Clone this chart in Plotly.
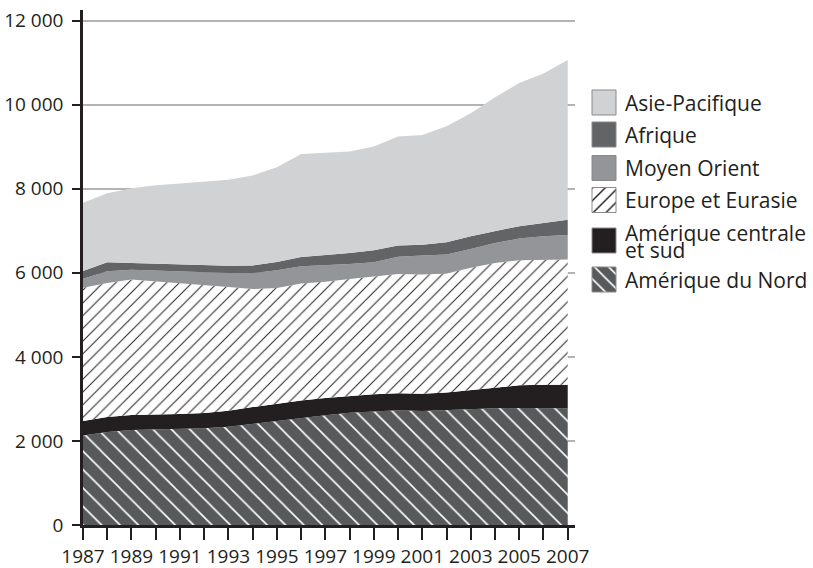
import plotly.graph_objects as go

# ---------------- data ----------------
years = list(range(1987, 2008))

amerique_nord = [2130, 2210, 2260, 2275, 2280, 2300, 2340, 2410, 2475, 2555, 2610,
                 2670, 2705, 2730, 2715, 2735, 2770, 2775, 2785, 2790, 2780]
amerique_centrale_sud = [345, 360, 355, 350, 360, 365, 380, 395, 410, 410, 410,
                         400, 405, 405, 410, 415, 435, 490, 540, 550, 560]
europe_eurasie = [3170, 3190, 3225, 3175, 3120, 3055, 2945, 2810, 2755, 2780, 2770,
                  2785, 2810, 2840, 2835, 2835, 2915, 2970, 2975, 2975, 2975]
moyen_orient = [215, 275, 235, 255, 270, 295, 330, 380, 420, 410, 390,
                355, 330, 405, 450, 450, 450, 475, 515, 555, 585]
afrique = [185, 215, 160, 160, 165, 165, 175, 180, 200, 220, 240,
           260, 285, 270, 260, 295, 300, 280, 295, 315, 365]
asie_pacifique = [1625, 1645, 1780, 1870, 1930, 1985, 2045, 2140, 2255, 2455, 2435,
                  2415, 2470, 2595, 2610, 2755, 2930, 3190, 3405, 3560, 3800]

names = ["Amérique du Nord", "Amérique centrale et sud", "Europe et Eurasie",
         "Moyen Orient", "Afrique", "Asie-Pacifique"]
values = [amerique_nord, amerique_centrale_sud, europe_eurasie,
          moyen_orient, afrique, asie_pacifique]
# legend (top to bottom)
legend_names = ["Asie-Pacifique", "Afrique", "Moyen Orient", "Europe et Eurasie",
                "Amérique centrale et sud", "Amérique du Nord"]
legend_lines = {"Amérique centrale et sud": ["Amérique centrale", "et sud"]}

y_tick_vals = [0, 2000, 4000, 6000, 8000, 10000, 12000]
y_tick_text = ["0", "2 000", "4 000", "6 000", "8 000", "10 000", "12 000"]
x_tick_text = [str(y) if (y - 1987) % 2 == 0 else "" for y in years]

# ---------------- styles / layout constants ----------------
styles = {
    "Amérique du Nord": dict(bg="#58595b", fg="#ffffff", shape="\\", size=13, solidity=0.12),
    "Amérique centrale et sud": dict(bg="#231f20", fg="#231f20", shape="", size=9, solidity=0.15),
    "Europe et Eurasie": dict(bg="#ffffff", fg="#231f20", shape="/", size=9, solidity=0.11),
    "Moyen Orient": dict(bg="#939598", fg="#939598", shape="", size=9, solidity=0.15),
    "Afrique": dict(bg="#636466", fg="#636466", shape="", size=9, solidity=0.15),
    "Asie-Pacifique": dict(bg="#d1d2d4", fg="#d1d2d4", shape="", size=9, solidity=0.15),
}

FONT = "Open Sans, Noto Sans, DejaVu Sans, sans-serif"
FS_LEG = 21
FS_TICK = 19
TXT = "#231f20"
W, H = 813, 568
ML, MR, MT, MB = 83, 10, 10, 43
PW = W - ML - MR
PH = H - MT - MB
MAIN_W = 492                      # pixel width of the chart area

# legend geometry (pixels from page top-left)
LEG_BOX_X0, LEG_BOX_W, LEG_BOX_H = 592, 24, 25
LEG_TEXT_X = 623
LEG_ROW_Y = {"Asie-Pacifique": 102.5, "Afrique": 134.5, "Moyen Orient": 168,
             "Europe et Eurasie": 200, "Amérique centrale et sud": 240.5,
             "Amérique du Nord": 279.5}
LEG_LINE_GAP = 17  # px between the two lines of a wrapped legend label

fig = go.Figure()

for name, vals in zip(names, values):
    st = styles[name]
    kw = {}
    if st["shape"]:
        kw["fillpattern"] = dict(shape=st["shape"], fgcolor=st["fg"], bgcolor=st["bg"],
                                 size=st["size"], solidity=st["solidity"], fillmode="replace")
    fig.add_trace(go.Scatter(
        x=years, y=vals, name=name, mode="lines", stackgroup="one",
        line=dict(width=0, color=st["bg"]), fillcolor=st["bg"],
        showlegend=False, hoverinfo="x+y+name", **kw,
    ))

# custom legend: one square per series on a pixel-scaled overlay axis
for n in legend_names:
    st = styles[n]
    mk = dict(color=st["bg"], line=dict(color="#8a8a8a", width=1))
    if st["shape"]:
        mk["pattern"] = dict(shape=st["shape"], fgcolor=st["fg"], bgcolor=st["bg"],
                             size=9 if st["shape"] == "/" else 10,
                             solidity=0.16, fillmode="replace")
    fig.add_trace(go.Bar(
        x=[LEG_BOX_W], base=[LEG_BOX_X0], y=[LEG_ROW_Y[n]], width=[LEG_BOX_H],
        orientation="h", xaxis="x2", yaxis="y2", showlegend=False,
        hoverinfo="skip", marker=mk,
    ))

annotations = []
for n in legend_names:
    lines = legend_lines.get(n)
    if lines:
        # tight leading: line spacing follows the (small) base size, glyphs use FS_LEG
        text = "<br>".join(f'<span style="font-size:{FS_LEG}px">{t}</span>' for t in lines)
        size = LEG_LINE_GAP / 1.3
        yoff = 0.5
    else:
        text, size, yoff = n, FS_LEG, 0
    annotations.append(dict(
        x=LEG_TEXT_X, xref="x2", y=LEG_ROW_Y[n] + yoff, yref="y2",
        text=text, showarrow=False, xanchor="left", yanchor="middle", align="left",
        font=dict(family=FONT, size=size, color=TXT),
    ))

fig.update_layout(
    width=W, height=H,
    margin=dict(l=ML, r=MR, t=MT, b=MB, autoexpand=False),
    paper_bgcolor="white", plot_bgcolor="rgba(0,0,0,0)",
    showlegend=False,
    font=dict(family=FONT, size=FS_TICK, color=TXT),
    annotations=annotations,
    barmode="overlay",
    xaxis=dict(
        domain=[0, MAIN_W / PW], range=[1987, 2007.3],
        tickvals=years, ticktext=x_tick_text, tickangle=0,
        ticks="outside", ticklen=12, tickwidth=1.5, tickcolor=TXT,
        showline=True, linecolor=TXT, linewidth=2.5,
        showgrid=False, zeroline=False, ticklabelstandoff=0, automargin=False,
        tickfont=dict(family=FONT, size=FS_TICK, color=TXT),
    ),
    yaxis=dict(
        range=[0, 12254],
        tickvals=y_tick_vals, ticktext=y_tick_text,
        ticks="outside", ticklen=8, tickwidth=2, tickcolor=TXT,
        showline=True, linecolor=TXT, linewidth=2.5,
        showgrid=True, gridcolor="#b3b3b3", gridwidth=1.5,
        zeroline=False, ticklabelstandoff=5, automargin=False,
        tickfont=dict(family=FONT, size=FS_TICK, color=TXT),
    ),
    xaxis2=dict(domain=[0, 1], range=[ML, W - MR], visible=False,
                anchor="y2", fixedrange=True, automargin=False),
    yaxis2=dict(domain=[0, 1], range=[H - MB, MT], visible=False,
                anchor="x2", fixedrange=True, automargin=False),
)

fig.write_html("out.html", config={"displayModeBar": False},
               post_script="document.body.style.margin='0';document.body.style.overflow='hidden';")
